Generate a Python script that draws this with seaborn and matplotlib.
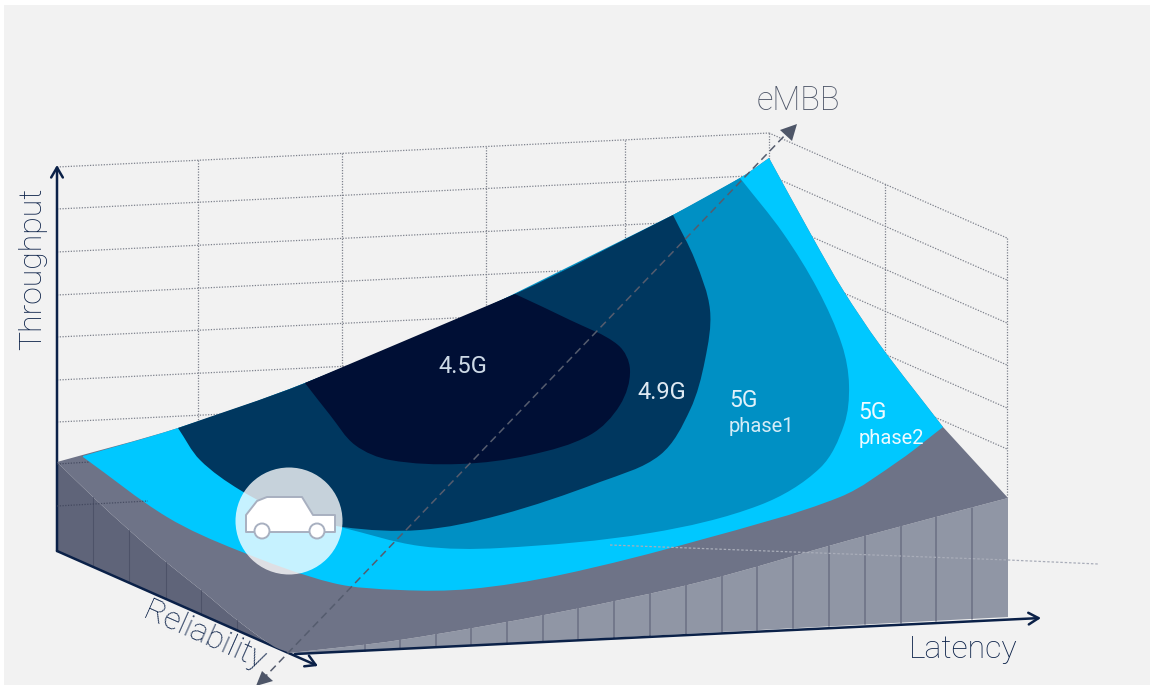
import numpy as np
import seaborn as sns
import matplotlib.pyplot as plt
from matplotlib.path import Path
from matplotlib.patches import PathPatch, Circle, Polygon

sns.set_theme(style="white")
plt.rcParams['font.family'] = ['Roboto', 'DejaVu Sans']

# everything, in pixels of the 1152x685 image
top_edge = [(57, 462), (178, 428), (305, 383), (515, 294), (673, 215), (740, 178), (769, 158)]
right_edge = [(769, 158), (813, 238), (843, 290), (880, 345), (943, 427)]
cyan_bottom = [(943, 427), (900, 460), (840, 497), (700, 540), (560, 575), (470, 589), (400, 590),
               (333, 583), (237, 550), (167, 517), (83, 457)]
phase1_right = [(740, 178), (783, 233), (818, 290), (842, 345), (849, 385), (844, 425), (820, 468),
                (760, 505), (650, 533), (500, 548), (420, 546), (340, 527)]
g49_top = [(178, 428), (305, 383), (515, 294), (673, 215)]
g49_edge = [(673, 215), (695, 260), (710, 310), (705, 360), (690, 410), (660, 455), (600, 482),
            (500, 515), (420, 530), (343, 527), (285, 512), (240, 490), (200, 460), (178, 428)]
g45_top = [(305, 383), (515, 294)]
g45_edge = [(515, 294), (570, 320), (618, 345), (630, 370), (620, 405), (590, 435), (530, 455),
            (460, 464), (390, 460), (355, 445), (330, 415), (305, 383)]
floor_front = [(290, 653), (400, 640), (560, 612), (700, 582), (850, 540), (1008, 498)]
floor_right = [(943, 427), (1008, 498)]
left_wall_top = [(57, 462), (93, 497), (129, 530), (166, 562), (201, 590), (237, 620), (273, 646), (290, 653)]
left_wall_floor = [(290, 653), (57, 551)]
left_ribs = [93, 129, 166, 201, 237, 273]
right_ribs = [365, 400, 436, 471, 507, 543, 578, 614, 650, 686, 722, 757, 793, 829, 865, 901, 936, 972]
back_ticks = [198, 342, 486, 625, 769]
side_ticks = [885, 1007]
back_rows = [167, 209, 252, 295, 337, 380, 422, 464, 506]
side_rows = [238, 280, 323, 365, 408, 449]
car = [(246, 532), (246, 515), (257, 501), (267, 497), (302, 497), (313, 515), (335, 515), (335, 532)]
labels = ["4.5G", "4.9G", "5G", "phase1", "5G", "phase2"]

NAVY = "#0b2148"


def smooth(runs):
    # closed shape from runs of points, curved inside a run and sharp between runs
    verts, codes = [], []
    for run in runs:
        p = np.array(run, float)
        if not verts:
            verts.append(p[0])
            codes.append(Path.MOVETO)
        else:
            verts.append(p[0])
            codes.append(Path.LINETO)
        for i in range(len(p) - 1):
            t0 = p[i + 1] - p[max(i - 1, 0)]
            t1 = p[min(i + 2, len(p) - 1)] - p[i]
            h = np.linalg.norm(p[i + 1] - p[i]) / 3
            verts += [p[i] + t0 / np.linalg.norm(t0) * h, p[i + 1] - t1 / np.linalg.norm(t1) * h, p[i + 1]]
            codes += [Path.CURVE4] * 3
    verts.append(verts[0])
    codes.append(Path.CLOSEPOLY)
    return Path(verts, codes)


def fill(ax, runs, color, z, **kw):
    ax.add_patch(PathPatch(smooth(runs), fc=color, ec="none", lw=0, zorder=z, **kw))


def curve_y(pts, x):
    p = np.array(pts, float)
    return np.interp(x, p[:, 0], p[:, 1])


def line(ax, x, y, **kw):
    sns.lineplot(x=x, y=y, sort=False, estimator=None, errorbar=None, ax=ax, legend=False, **kw)


fig = plt.figure(figsize=(11.52, 6.85), dpi=100, facecolor="white")
ax = fig.add_axes([0, 0, 1, 1])
ax.set_xlim(0, 1152)
ax.set_ylim(685, 0)
ax.axis("off")
ax.add_patch(plt.Rectangle((4, 5), 1146, 680, fc="#f2f2f2", ec="none", zorder=0))

# dotted back walls
grid = dict(color="#7d818c", lw=0.9, linestyle=(0, (1, 1.2)), zorder=1)
slope_back = -34 / 712
for y0 in back_rows[:-2]:
    line(ax, [57, 769], [y0, y0 + slope_back * 712], **grid)
for x in back_ticks:
    line(ax, [x, x], [167 + slope_back * (x - 57), 460], **grid)
for y1 in side_rows:
    line(ax, [769, 1007], [y1 - 105, y1], **grid)
line(ax, [885, 885], [184, 400], **grid)
line(ax, [1007, 1007], [238, 497], **grid)

# base and side walls
fill(ax, [left_wall_top, left_wall_floor], "#5f6479", 2)
wall_bottom = [(1008, 617), (300, 654)]
fill(ax, [floor_front, wall_bottom], "#9096a5", 2)
for x in left_ribs:
    line(ax, [x, x], [curve_y(left_wall_top, x), 551 + (x - 57) * 102 / 233], color="#4d5268", lw=0.8, zorder=3)
for x in right_ribs:
    line(ax, [x, x], [curve_y(floor_front, x), 654 - (x - 300) * 37 / 708], color="#6b7084", lw=1.1, zorder=3)
fill(ax, [top_edge, right_edge, floor_right, floor_front[::-1], left_wall_top[::-1]], "#6e7387", 4)

# nested regions
fill(ax, [[(83, 456), (178, 428), (305, 383), (515, 294), (673, 215), (740, 178), (769, 158)],
          right_edge, cyan_bottom], "#00c8ff", 5)
fill(ax, [[(673, 215), (740, 178)], phase1_right, [(340, 527), (300, 400)]], "#0090c4", 6)
fill(ax, [g49_top, g49_edge], "#00375f", 7)
fill(ax, [g45_top, g45_edge], "#000f35", 8)

# dotted lines that show through the front
faint = dict(color="#a9adb9", lw=0.9, linestyle=(0, (2, 1.5)), zorder=9)
line(ax, [610, 820, 1008, 1098], [545, 553, 560, 564], **faint)
front = dict(color="#3c4258", lw=0.9, linestyle=(0, (1, 1.2)), alpha=0.8, zorder=9)
line(ax, [57, 90], [464, 462], **front)
line(ax, [57, 148], [506, 501], **front)

# car badge
ax.add_patch(Circle((289, 521), 53.5, fc="white", ec="none", alpha=0.78, zorder=10))
ax.add_patch(Polygon(car, closed=True, fc="white", ec="#a8b0c0", lw=1.4, joinstyle="round", zorder=11))
ax.add_patch(Circle((262, 531), 7.5, fc="white", ec="#a8b0c0", lw=1.4, zorder=12))
ax.add_patch(Circle((317, 531), 7.5, fc="white", ec="#a8b0c0", lw=1.4, zorder=12))

# eMBB axis
line(ax, [262, 788], [680, 132], color="#555c6e", lw=1.1, linestyle=(0, (5, 3)), zorder=13)
ax.add_patch(Polygon([(797, 124), (780, 130), (792, 141)], closed=True, fc="#4e5668", ec="none", zorder=14))
ax.add_patch(Polygon([(256, 686), (262, 671), (273, 681)], closed=True, fc="#4e5668", ec="none", zorder=14))

# solid axes with open heads
head = dict(arrowstyle="->,head_length=0.6,head_width=0.35", color=NAVY, lw=1.8, shrinkA=0, shrinkB=0, zorder=15)
ax.annotate("", xy=(57, 165), xytext=(57, 551), arrowprops=head)
ax.annotate("", xy=(318, 666), xytext=(57, 551), arrowprops=head)
ax.annotate("", xy=(1041, 618), xytext=(295, 654), arrowprops=head)

# labels
ax.text(798, 101, "eMBB", color="#4e5668", fontsize=23.5, fontweight="light", ha="center", va="center", zorder=16)
ax.text(33, 269, "Throughput", color=NAVY, fontsize=23, fontweight="light", rotation=90, ha="center", va="center", zorder=16)
ax.text(204, 636, "Reliability", color=NAVY, fontsize=23, fontweight="light", rotation=-24, rotation_mode="anchor", ha="center", va="center", zorder=16)
ax.text(963, 650, "Latency", color=NAVY, fontsize=23, fontweight="light", ha="center", va="center", zorder=16)
label_pos = [(463, 366, 17), (662, 392, 17), (743, 400, 16.5), (761, 426, 14.5), (872, 412, 16.5), (891, 438, 14.5)]
label_col = ["#cdd9e6", "#dfe9f2", "#e2f2fa", "#d5ecf7", "#eefaff", "#eefaff"]
for t, (x, y, s), c in zip(labels, label_pos, label_col):
    ax.text(x, y, t, color=c, fontsize=s, ha="center", va="center", zorder=16)

fig.savefig("out.png", dpi=100)
